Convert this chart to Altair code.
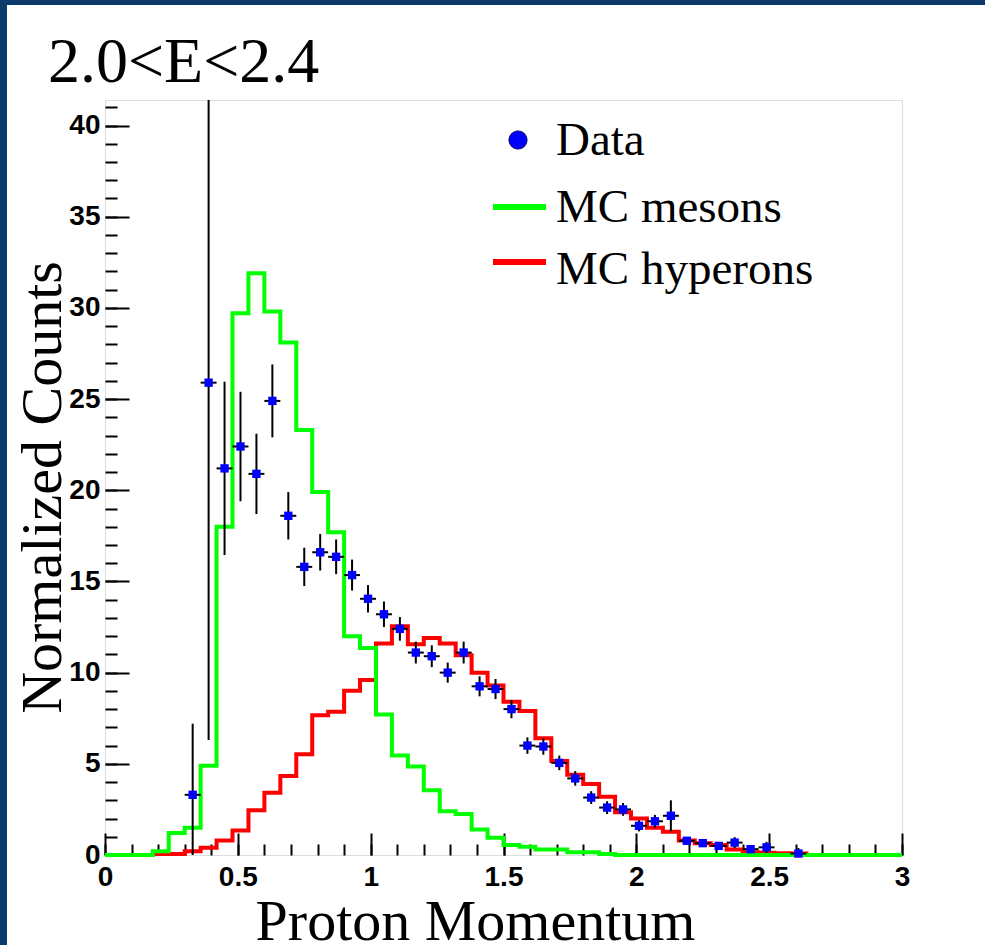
import altair as alt
import pandas as pd

# ---------------- data ----------------
bin_edges = [round(0.06 * i, 2) for i in range(51)]  # 50 bins of width 0.06 on [0, 3]

mc_mesons = [0, 0, 0, 0.2, 1.2, 1.5, 4.9, 18.0, 29.7, 31.9,
             29.8, 28.1, 23.3, 19.9, 17.7, 12.0, 11.35, 7.7, 5.45, 4.85,
             3.55, 2.4, 2.25, 1.4, 0.95, 0.55, 0.45, 0.3, 0.3, 0.15,
             0.15, 0.05, 0, 0, 0, 0, 0, 0, 0, 0,
             0, 0, 0, 0, 0, 0, 0, 0, 0, 0]

mc_hyperons = [0, 0, 0, 0.05, 0.05, 0.2, 0.4, 0.8, 1.35, 2.45,
               3.42, 4.33, 5.52, 7.66, 7.86, 9.0, 9.6, 11.6, 12.55, 11.55,
               11.9, 11.6, 10.95, 10.0, 9.3, 8.4, 7.9, 6.4, 5.15, 4.4,
               3.9, 3.2, 2.35, 2.0, 1.5, 1.28, 0.8, 0.65, 0.55, 0.3,
               0.15, 0.12, 0.1, 0.08, 0, 0, 0, 0, 0, 0]

data_x = [0.33, 0.39, 0.45, 0.51, 0.57, 0.63, 0.69, 0.75, 0.81, 0.87,
          0.93, 0.99, 1.05, 1.11, 1.17, 1.23, 1.29, 1.35, 1.41, 1.47,
          1.53, 1.59, 1.65, 1.71, 1.77, 1.83, 1.89, 1.95, 2.01, 2.07,
          2.13, 2.19, 2.25, 2.31, 2.37, 2.43, 2.49, 2.61]
data_y = [3.3, 25.9, 21.2, 22.4, 20.9, 24.9, 18.6, 15.8, 16.6, 16.35,
          15.35, 14.05, 13.2, 12.4, 11.1, 10.9, 10.0, 11.1, 9.25, 9.1,
          8.0, 6.0, 5.95, 5.05, 4.2, 3.15, 2.6, 2.5, 1.6, 1.85,
          2.15, 0.78, 0.65, 0.5, 0.68, 0.32, 0.42, 0.08]
data_err = [3.9, 19.6, 4.75, 3.0, 2.2, 2.0, 1.3, 1.05, 1.0, 0.95,
            0.85, 0.75, 0.7, 0.65, 0.6, 0.6, 0.55, 0.6, 0.55, 0.55,
            0.5, 0.45, 0.45, 0.4, 0.4, 0.35, 0.35, 0.35, 0.3, 0.35,
            0.85, 0.2, 0.2, 0.2, 0.3, 0.2, 0.3, 0.3]
half_bin = 0.03

legend_labels = ["Data", "MC mesons", "MC hyperons"]
panel_title = "2.0<E<2.4"
x_title = "Proton Momentum"
y_title = "Normalized Counts"
x_major = [0, 0.5, 1, 1.5, 2, 2.5, 3]
x_minor = [round(0.1 * i, 1) for i in range(31)]
y_major = [0, 5, 10, 15, 20, 25, 30, 35, 40]
y_minor = list(range(42))

# ---------------- tables ----------------
def step_table(vals):
    return pd.DataFrame({"x": bin_edges, "y": list(vals) + [vals[-1]]})

mes_df = step_table(mc_mesons)
hyp_df = step_table(mc_hyperons)
pts = pd.DataFrame({"x": data_x, "y": data_y, "err": data_err})
pts["lo"] = pts["y"] - pts["err"]
pts["hi"] = pts["y"] + pts["err"]
pts["xl"] = pts["x"] - half_bin
pts["xr"] = pts["x"] + half_bin

W, H = 797, 755
XS = alt.Scale(domain=[0, 3], nice=False, zero=False)
YS = alt.Scale(domain=[0, 41.4], nice=False, zero=True)
GREEN, RED, BLUE, NAVY = "#00ff00", "#ff0000", "#0000ff", "#0b3a6b"
SERIF = "Liberation Serif"
SANS = "Liberation Sans"

x_main_axis = alt.Axis(orient="bottom", values=x_major, format="~g", ticks=False, domain=False,
                       grid=False, labelFont=SANS, labelFontWeight="bold", labelFontSize=28,
                       labelColor="black", labelPadding=8, labelBaseline="top", labelFlush=False,
                       labelOverlap=False,
                       title=x_title, titleFont=SERIF, titleFontSize=58, titleFontWeight="normal",
                       titleColor="black", titleX=370, titleY=84, titleAlign="center",
                       titleBaseline="alphabetic")
y_main_axis = alt.Axis(orient="left", values=y_major, ticks=False, domain=False, grid=False,
                       labelFont=SANS, labelFontWeight="bold", labelFontSize=28, labelColor="black",
                       labelPadding=5, labelFlush=False, labelOverlap=False,
                       title=y_title, titleFont=SERIF, titleFontSize=58, titleFontWeight="normal",
                       titleColor="black", titleX=-45, titleY=387, titleAlign="center",
                       titleAngle=270, titleBaseline="alphabetic")

hyp = alt.Chart(hyp_df).mark_line(interpolate="step-after", color=RED, strokeWidth=4).encode(
    x=alt.X("x:Q", scale=XS, axis=x_main_axis),
    y=alt.Y("y:Q", scale=YS, axis=y_main_axis),
)
mes = alt.Chart(mes_df).mark_line(interpolate="step-after", color=GREEN, strokeWidth=4).encode(
    x=alt.X("x:Q", scale=XS, axis=None),
    y=alt.Y("y:Q", scale=YS, axis=None),
)
vbars = alt.Chart(pts).mark_rule(color="black", strokeWidth=2, clip=True).encode(
    x=alt.X("x:Q", scale=XS, axis=None),
    y=alt.Y("lo:Q", scale=YS, axis=None),
    y2="hi:Q",
)
hbars = alt.Chart(pts).mark_rule(color="black", strokeWidth=2).encode(
    x=alt.X("xl:Q", scale=XS, axis=None),
    x2="xr:Q",
    y=alt.Y("y:Q", scale=YS, axis=None),
)
squares = alt.Chart(pts).mark_square(color=BLUE, filled=True, size=70, opacity=1).encode(
    x=alt.X("x:Q", scale=XS, axis=None),
    y=alt.Y("y:Q", scale=YS, axis=None),
)

def tick_layer(channel, values, size, orient, offset):
    ax = alt.Axis(orient=orient, offset=offset, values=values, tickSize=size, tickWidth=2,
                  tickColor="black", labels=False, domain=False, grid=False, title=None)
    if channel == "x":
        enc = dict(x=alt.X("x:Q", scale=XS, axis=ax), y=alt.Y("y:Q", scale=YS, axis=None))
    else:
        enc = dict(x=alt.X("x:Q", scale=XS, axis=None), y=alt.Y("y:Q", scale=YS, axis=ax))
    return alt.Chart(mes_df).mark_point(opacity=0).encode(**enc)

xt_major = tick_layer("x", x_major, 22, "top", -H)
xt_minor = tick_layer("x", x_minor, 11, "top", -H)
yt_major = tick_layer("y", y_major, 24, "right", -W)
yt_minor = tick_layer("y", y_minor, 12, "right", -W)

one = pd.DataFrame({"t": [panel_title]})

def text_at(label, px, py, size, align="left"):
    return alt.Chart(pd.DataFrame({"t": [label]})).mark_text(
        font=SERIF, fontSize=size, color="black", align=align, baseline="alphabetic"
    ).encode(x=alt.value(px), y=alt.value(py), text="t:N")

title_txt = text_at(panel_title, -57, -18, 64)
leg_data_txt = text_at(legend_labels[0], 451, 55, 47)
leg_mes_txt = text_at(legend_labels[1], 451, 122, 47)
leg_hyp_txt = text_at(legend_labels[2], 451, 184, 47)

leg_dot = alt.Chart(one).mark_point(filled=True, color=BLUE, size=330, opacity=1,
                                    shape="circle", stroke="#000066", strokeWidth=1).encode(
    x=alt.value(413), y=alt.value(40))
leg_mes_line = alt.Chart(one).mark_rule(color=GREEN, strokeWidth=6).encode(
    x=alt.value(388), x2=alt.value(441), y=alt.value(107))
leg_hyp_line = alt.Chart(one).mark_rule(color=RED, strokeWidth=6).encode(
    x=alt.value(388), x2=alt.value(441), y=alt.value(162))

band_top = alt.Chart(one).mark_rect(color=NAVY).encode(
    x=alt.value(-105), x2=alt.value(880), y=alt.value(-100), y2=alt.value(-95))
band_left = alt.Chart(one).mark_rect(color=NAVY).encode(
    x=alt.value(-105), x2=alt.value(-98), y=alt.value(-100), y2=alt.value(845))

chart = alt.layer(
    hyp, mes, vbars, hbars, squares,
    xt_major, xt_minor, yt_major, yt_minor,
    title_txt, leg_dot, leg_mes_line, leg_hyp_line,
    leg_data_txt, leg_mes_txt, leg_hyp_txt,
    band_top, band_left,
).resolve_axis(x="independent", y="independent").properties(
    width=W, height=H,
    autosize=alt.AutoSizeParams(type="none"),
    padding={"left": 105, "top": 100, "right": 83, "bottom": 90},
).configure_view(stroke="black", strokeWidth=1.5, fill="white").configure(background="white")

chart.save("out.html", embed_options={"renderer": "svg", "actions": False})
